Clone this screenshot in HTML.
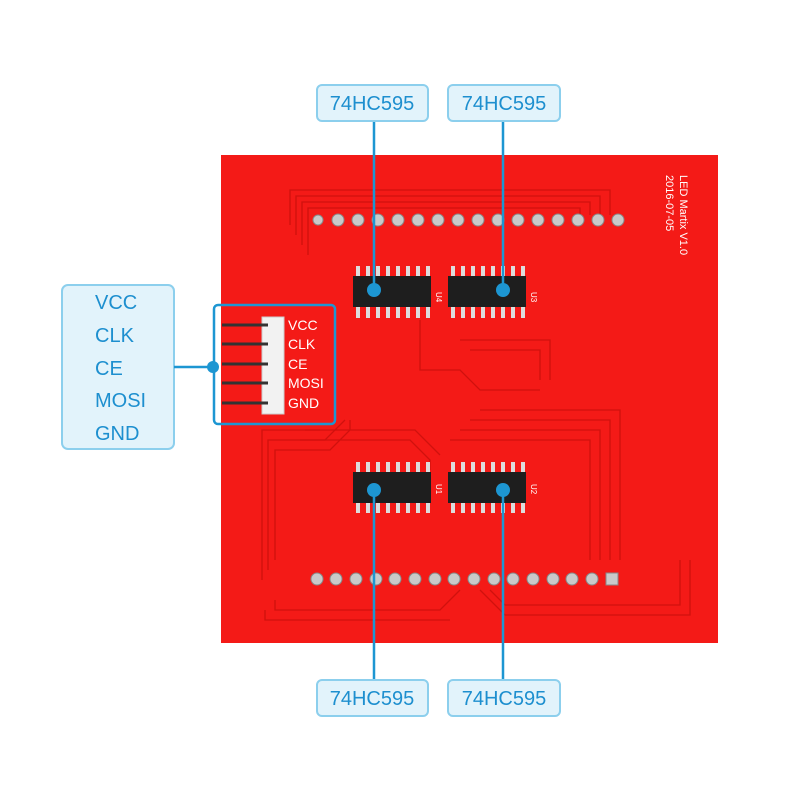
<!DOCTYPE html>
<html><head><meta charset="utf-8"><style>
html,body{margin:0;padding:0;background:#fff;width:800px;height:800px;overflow:hidden}
svg{display:block}
text{font-family:"Liberation Sans",sans-serif}
</style></head><body>
<svg width="800" height="800" viewBox="0 0 800 800" xmlns="http://www.w3.org/2000/svg">
<!-- board -->
<rect x="221" y="155" width="497" height="488" fill="#f41a17"/>
<!-- traces -->
<g fill="none" stroke="#c80f0c" stroke-width="1.3" opacity="0.8">
  <path d="M290 225 V190 H610 V215"/>
  <path d="M296 235 V196 H600 V215"/>
  <path d="M302 245 V202 H590 V215"/>
  <path d="M308 255 V208 H580 V215"/>
  <path d="M275 560 V450 H330 L350 430 V420"/>
  <path d="M268 570 V440 H325 L345 420"/>
  <path d="M262 580 V430 H320"/>
  <path d="M300 440 H410 L430 460 V470"/>
  <path d="M305 430 H415 L440 455"/>
  <path d="M480 410 H620 V560"/>
  <path d="M470 420 H610 V560"/>
  <path d="M460 430 H600 V560"/>
  <path d="M450 440 H590 V560"/>
  <path d="M275 600 V610 H440 L460 590"/>
  <path d="M265 610 V620 H450"/>
  <path d="M480 590 L505 615 H690 V560"/>
  <path d="M490 590 L505 605 H680 V560"/>
  <path d="M420 320 V370 H460 L480 390 H540"/>
  <path d="M460 340 H550 V380"/>
  <path d="M470 350 H540 V380"/>
</g>
<!-- top pads -->
<g fill="#c9c9c9" stroke="#888" stroke-width="1">
  <circle cx="318" cy="220" r="5"/><circle cx="338" cy="220" r="6"/><circle cx="358" cy="220" r="6"/><circle cx="378" cy="220" r="6"/><circle cx="398" cy="220" r="6"/><circle cx="418" cy="220" r="6"/><circle cx="438" cy="220" r="6"/><circle cx="458" cy="220" r="6"/><circle cx="478" cy="220" r="6"/><circle cx="498" cy="220" r="6"/><circle cx="518" cy="220" r="6"/><circle cx="538" cy="220" r="6"/><circle cx="558" cy="220" r="6"/><circle cx="578" cy="220" r="6"/><circle cx="598" cy="220" r="6"/><circle cx="618" cy="220" r="6"/>
</g>
<!-- bottom pads -->
<g fill="#c9c9c9" stroke="#888" stroke-width="1">
  <circle cx="317" cy="579" r="6"/><circle cx="336" cy="579" r="6"/><circle cx="356" cy="579" r="6"/><circle cx="376" cy="579" r="6"/><circle cx="395" cy="579" r="6"/><circle cx="415" cy="579" r="6"/><circle cx="435" cy="579" r="6"/><circle cx="454" cy="579" r="6"/><circle cx="474" cy="579" r="6"/><circle cx="494" cy="579" r="6"/><circle cx="513" cy="579" r="6"/><circle cx="533" cy="579" r="6"/><circle cx="553" cy="579" r="6"/><circle cx="572" cy="579" r="6"/><circle cx="592" cy="579" r="6"/>
  <rect x="606" y="573" width="12" height="12"/>
</g>
<!-- chips -->
<g>
  <g fill="#ddd">
    <rect x="356" y="266" width="4" height="12"/><rect x="366" y="266" width="4" height="12"/><rect x="376" y="266" width="4" height="12"/><rect x="386" y="266" width="4" height="12"/><rect x="396" y="266" width="4" height="12"/><rect x="406" y="266" width="4" height="12"/><rect x="416" y="266" width="4" height="12"/><rect x="426" y="266" width="4" height="12"/>
    <rect x="356" y="306" width="4" height="12"/><rect x="366" y="306" width="4" height="12"/><rect x="376" y="306" width="4" height="12"/><rect x="386" y="306" width="4" height="12"/><rect x="396" y="306" width="4" height="12"/><rect x="406" y="306" width="4" height="12"/><rect x="416" y="306" width="4" height="12"/><rect x="426" y="306" width="4" height="12"/>
    <rect x="451" y="266" width="4" height="12"/><rect x="461" y="266" width="4" height="12"/><rect x="471" y="266" width="4" height="12"/><rect x="481" y="266" width="4" height="12"/><rect x="491" y="266" width="4" height="12"/><rect x="501" y="266" width="4" height="12"/><rect x="511" y="266" width="4" height="12"/><rect x="521" y="266" width="4" height="12"/>
    <rect x="451" y="306" width="4" height="12"/><rect x="461" y="306" width="4" height="12"/><rect x="471" y="306" width="4" height="12"/><rect x="481" y="306" width="4" height="12"/><rect x="491" y="306" width="4" height="12"/><rect x="501" y="306" width="4" height="12"/><rect x="511" y="306" width="4" height="12"/><rect x="521" y="306" width="4" height="12"/>
    <rect x="356" y="462" width="4" height="12"/><rect x="366" y="462" width="4" height="12"/><rect x="376" y="462" width="4" height="12"/><rect x="386" y="462" width="4" height="12"/><rect x="396" y="462" width="4" height="12"/><rect x="406" y="462" width="4" height="12"/><rect x="416" y="462" width="4" height="12"/><rect x="426" y="462" width="4" height="12"/>
    <rect x="356" y="501" width="4" height="12"/><rect x="366" y="501" width="4" height="12"/><rect x="376" y="501" width="4" height="12"/><rect x="386" y="501" width="4" height="12"/><rect x="396" y="501" width="4" height="12"/><rect x="406" y="501" width="4" height="12"/><rect x="416" y="501" width="4" height="12"/><rect x="426" y="501" width="4" height="12"/>
    <rect x="451" y="462" width="4" height="12"/><rect x="461" y="462" width="4" height="12"/><rect x="471" y="462" width="4" height="12"/><rect x="481" y="462" width="4" height="12"/><rect x="491" y="462" width="4" height="12"/><rect x="501" y="462" width="4" height="12"/><rect x="511" y="462" width="4" height="12"/><rect x="521" y="462" width="4" height="12"/>
    <rect x="451" y="501" width="4" height="12"/><rect x="461" y="501" width="4" height="12"/><rect x="471" y="501" width="4" height="12"/><rect x="481" y="501" width="4" height="12"/><rect x="491" y="501" width="4" height="12"/><rect x="501" y="501" width="4" height="12"/><rect x="511" y="501" width="4" height="12"/><rect x="521" y="501" width="4" height="12"/>
  </g>
  <g fill="#1e1e1e">
    <rect x="353" y="276" width="78" height="31"/>
    <rect x="448" y="276" width="78" height="31"/>
    <rect x="353" y="472" width="78" height="31"/>
    <rect x="448" y="472" width="78" height="31"/>
  </g>
</g>
<g fill="#fff" font-size="8">
  <text transform="translate(436,292) rotate(90)">U4</text>
  <text transform="translate(531,292) rotate(90)">U3</text>
  <text transform="translate(436,484) rotate(90)">U1</text>
  <text transform="translate(531,484) rotate(90)">U2</text>
  <text transform="translate(680,175) rotate(90)" font-size="11">LED Martix V1.0</text>
  <text transform="translate(666,175) rotate(90)" font-size="11">2016-07-05</text>
</g>
<!-- header -->
<g>
  <rect x="262" y="317" width="22" height="97" fill="#f2f2f2" stroke="#ccc"/>
  <g stroke="#333" stroke-width="3">
    <line x1="222" y1="325" x2="268" y2="325"/><line x1="222" y1="344" x2="268" y2="344"/><line x1="222" y1="364" x2="268" y2="364"/><line x1="222" y1="383" x2="268" y2="383"/><line x1="222" y1="403" x2="268" y2="403"/>
  </g>
  <g fill="#fff" font-size="14">
    <text x="288" y="330">VCC</text><text x="288" y="349">CLK</text><text x="288" y="369">CE</text><text x="288" y="388">MOSI</text><text x="288" y="408">GND</text>
  </g>
</g>
<rect x="214" y="305" width="121" height="119" rx="4" fill="none" stroke="#1d96d2" stroke-width="2.5"/>
<!-- left callout -->
<rect x="62" y="285" width="112" height="164" rx="6" fill="#e2f3fb" stroke="#8ccfed" stroke-width="2"/>
<g fill="#1d8fcf" font-size="20">
  <text x="95" y="309">VCC</text><text x="95" y="342">CLK</text><text x="95" y="375">CE</text><text x="95" y="407">MOSI</text><text x="95" y="440">GND</text>
</g>
<line x1="174" y1="367" x2="213" y2="367" stroke="#1d96d2" stroke-width="2.5"/>
<circle cx="213" cy="367" r="6" fill="#1d96d2"/>
<!-- chip callouts -->
<g stroke="#1d96d2" stroke-width="2.5">
  <line x1="374" y1="121" x2="374" y2="290"/><line x1="503" y1="121" x2="503" y2="290"/>
  <line x1="374" y1="490" x2="374" y2="680"/><line x1="503" y1="490" x2="503" y2="680"/>
</g>
<g fill="#1d96d2">
  <circle cx="374" cy="290" r="7"/><circle cx="503" cy="290" r="7"/>
  <circle cx="374" cy="490" r="7"/><circle cx="503" cy="490" r="7"/>
</g>
<g fill="#e2f3fb" stroke="#8ccfed" stroke-width="2">
  <rect x="317" y="85" width="111" height="36" rx="5"/>
  <rect x="448" y="85" width="112" height="36" rx="5"/>
  <rect x="317" y="680" width="111" height="36" rx="5"/>
  <rect x="448" y="680" width="112" height="36" rx="5"/>
</g>
<g fill="#1d8fcf" font-size="20" text-anchor="middle">
  <text x="372" y="110">74HC595</text><text x="504" y="110">74HC595</text>
  <text x="372" y="705">74HC595</text><text x="504" y="705">74HC595</text>
</g>
</svg>
</body></html>
